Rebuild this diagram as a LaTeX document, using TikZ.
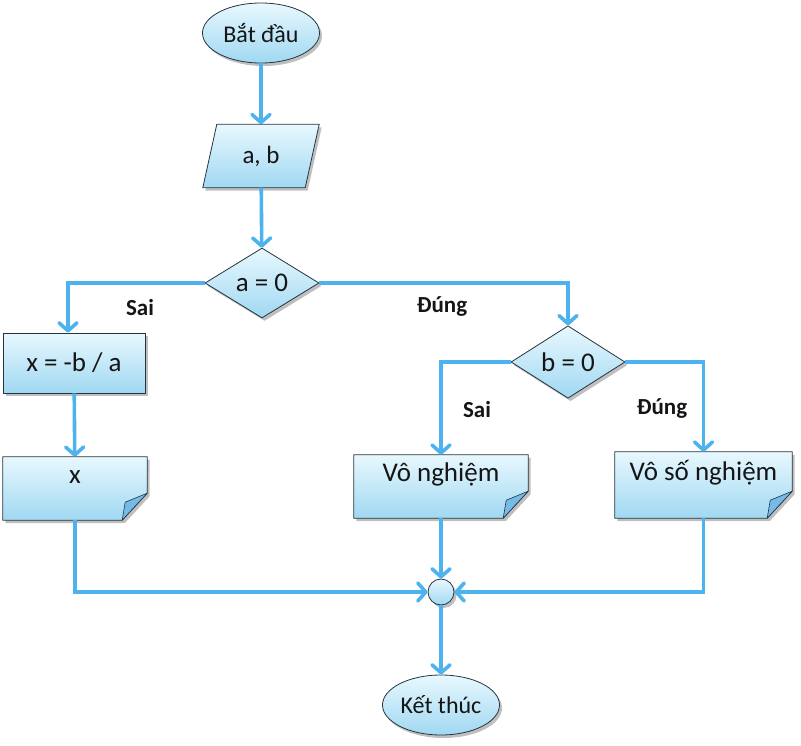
\documentclass[tikz,border=0pt]{standalone}
\usepackage{fontspec}
\setmainfont{Carlito}
\usetikzlibrary{arrows.meta,shapes.geometric,shadows}
\pgfdeclarelayer{bg}
\pgfsetlayers{bg,main}

\definecolor{flow}{HTML}{4DB3EE}
\definecolor{boxtop}{HTML}{E8F8FE}
\definecolor{boxbot}{HTML}{A0D8F2}
\definecolor{edgec}{HTML}{26343D}
\definecolor{foldc}{HTML}{74BBE8}
\definecolor{ink}{HTML}{151515}

\tikzset{
  shade box/.style={top color=boxtop, bottom color=boxbot, draw=edgec, line width=0.8pt,
    drop shadow={shadow xshift=2.5pt, shadow yshift=-3pt, opacity=0.5}},
  txt/.style={text=ink, font=\fontsize{27}{30}\selectfont},
  terminal/.style={ellipse, shade box, txt, font=\fontsize{24}{28}\selectfont,
    minimum width=117pt, minimum height=60pt, inner sep=0pt},
  iobox/.style={rectangle, txt, font=\fontsize{25}{28}\selectfont,
    minimum width=102pt, minimum height=63pt, inner sep=0pt},
  decision/.style={diamond, shade box, txt, minimum width=114pt, minimum height=62pt, inner sep=0pt},
  process/.style={rectangle, shade box, txt, minimum width=142pt, minimum height=60pt, inner sep=0pt},
  docnode/.style={rectangle, txt, inner sep=0pt, text height=12pt, text depth=22pt},
  junction/.style={circle, shade box, minimum size=26pt, inner sep=0pt},
  branch/.style={text=ink, font=\bfseries\fontsize{23}{26}\selectfont},
  flowline/.style={draw=flow, line width=3.6pt,
    -{Straight Barb[length=8pt, width=18pt, round]}}
}

% document symbol: body with a folded bottom-right corner, drawn behind the text node
\newcommand\flowdoc[1]{%
  \begin{pgfonlayer}{bg}
    \path[shade box] (#1.north west) -- (#1.north east) -- ([yshift=27pt]#1.south east)
      -- ([xshift=-25pt]#1.south east) -- (#1.south west) -- cycle;
    \path[fill=foldc, draw=edgec, line width=0.6pt, line join=round]
      ([yshift=27pt]#1.south east) -- ([xshift=-25pt]#1.south east)
      -- ([xshift=-22pt, yshift=18pt]#1.south east) -- cycle;
  \end{pgfonlayer}}

% input/output symbol: parallelogram leaning right, drawn behind the text node
\newcommand\flowio[1]{%
  \begin{pgfonlayer}{bg}
    \path[shade box] ([xshift=7pt]#1.north west) -- ([xshift=7pt]#1.north east)
      -- ([xshift=-7pt]#1.south east) -- ([xshift=-7pt]#1.south west) -- cycle;
  \end{pgfonlayer}}

\begin{document}
\begin{tikzpicture}[x=1pt, y=-1pt]
  \useasboundingbox (0,0) rectangle (801,746);

  \node[terminal] (start) at (261,33) {Bắt đầu};
  \node[iobox] (input) at (261,156) {a, b};
  \node[decision] (da) at (262,283) {a = 0};
  \node[process] (calc) at (74,363) {x = -b / a};
  \node[docnode, minimum width=144pt, minimum height=63pt] (outx) at (75,488.5) {x};
  \node[decision] (db) at (568,362) {b = 0};
  \node[docnode, minimum width=174pt, minimum height=63pt] (none) at (441,486.5) {Vô nghiệm};
  \node[docnode, minimum width=177pt, minimum height=66pt] (many) at (703.5,485) {Vô số nghiệm};
  \node[junction] (join) at (441,592) {};
  \node[terminal] (stop) at (441,705) {Kết thúc};

  \flowio{input}
  \flowdoc{outx}
  \flowdoc{none}
  \flowdoc{many}

  % connectors
  \draw[flowline] (start) -- (input);
  \draw[flowline] (input) -- (da);
  \draw[flowline] (da.west) -| ([xshift=-6pt]calc.north);
  \draw[flowline] (da.east) -| (db.north);
  \draw[flowline] (calc) -- (outx);
  \draw[flowline] (db.west) -| (none.north);
  \draw[flowline] (db.east) -| (many.north);
  \draw[flowline] (outx.south) |- (join.west);
  \draw[flowline] (none.south) -- (join.north);
  \draw[flowline] (many.south) |- (join.east);
  \draw[flowline] (join.south) -- (stop.north);

  % branch labels
  \node[branch] (lsai1) at (140,308) {Sai};
  \node[branch] (ldung1) at (442,307) {Đúng};
  \node[branch] (lsai2) at (477,410) {Sai};
  \node[branch] (ldung2) at (662,409) {Đúng};
\end{tikzpicture}
\end{document}
